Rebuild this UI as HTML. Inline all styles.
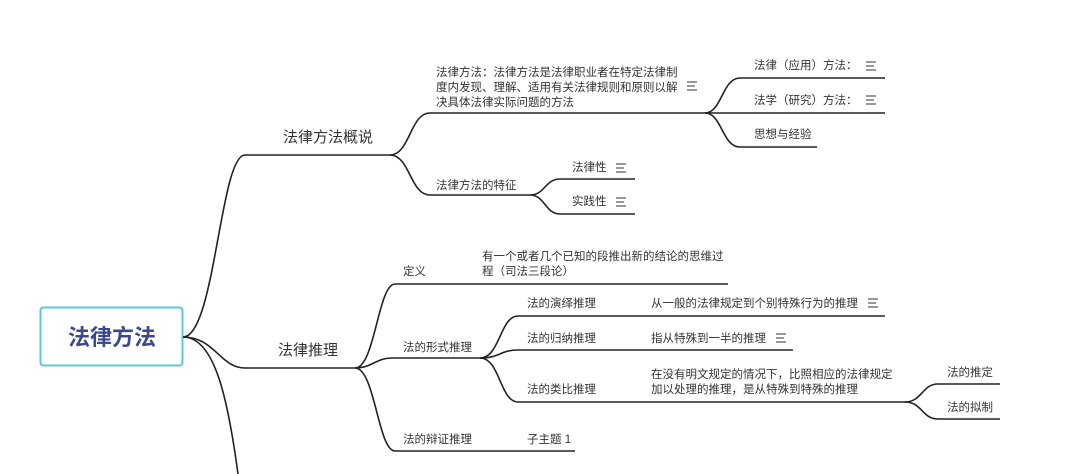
<!DOCTYPE html>
<html><head><meta charset="utf-8"><style>
html,body{margin:0;padding:0;background:#fff;}
svg{display:block}
text{font-family:"Liberation Sans","Noto Sans CJK SC",sans-serif;fill:#333;font-size:11.5px}
.l{stroke:#222;stroke-width:1.6;fill:none}
.m{font-size:15px}
.i{stroke:#555;stroke-width:1.2}
</style></head><body>
<svg width="1080" height="474" viewBox="0 0 1080 474">
<rect x="40.5" y="307.5" width="142" height="58" rx="3" fill="#fff" stroke="#5ec8d8" stroke-width="2"/>
<text x="112" y="345" text-anchor="middle" style="font-size:22px;font-weight:bold;fill:#3b4a8c">法律方法</text>

<path class="l" d="M183 337 C215 337 220 155 245 155 L390 155"/>
<path class="l" d="M183 337 C215 337 220 368 245 368 L355 368"/>
<path class="l" d="M183 337 C215 337 228 400 238 474"/>
<text class="m" x="283" y="142">法律方法概说</text>
<text class="m" x="278" y="355">法律推理</text>

<path class="l" d="M390 155 C410 155 410 113 430 113 L705 113"/>
<path class="l" d="M390 155 C410 155 410 195 430 195 L530 195"/>
<text x="436" y="76">法律方法：法律方法是法律职业者在特定法律制</text>
<text x="436" y="91">度内发现、理解、适用有关法律规则和原则以解</text>
<text x="436" y="106">决具体法律实际问题的方法</text>
<g class="i"><line x1="687" y1="82" x2="697" y2="82"/><line x1="687" y1="86" x2="695" y2="86"/><line x1="687" y1="90" x2="697" y2="90"/></g>
<text x="436" y="189">法律方法的特征</text>

<path class="l" d="M705 113 C722 113 722 78 740 78 L885 78"/>
<path class="l" d="M705 113 L885 113"/>
<path class="l" d="M705 113 C722 113 722 147 740 147 L817 147"/>
<text x="754" y="69">法律（应用）方法：</text>
<text x="754" y="104">法学（研究）方法：</text>
<text x="754" y="138">思想与经验</text>
<g class="i"><line x1="866" y1="62" x2="876" y2="62"/><line x1="866" y1="66" x2="874" y2="66"/><line x1="866" y1="70" x2="876" y2="70"/>
<line x1="866" y1="96" x2="876" y2="96"/><line x1="866" y1="100" x2="874" y2="100"/><line x1="866" y1="104" x2="876" y2="104"/></g>

<path class="l" d="M530 195 C545 195 545 179 560 179 L635 179"/>
<path class="l" d="M530 195 C545 195 545 214 560 214 L635 214"/>
<text x="572" y="171">法律性</text>
<text x="572" y="205">实践性</text>
<g class="i"><line x1="616" y1="164" x2="626" y2="164"/><line x1="616" y1="168" x2="624" y2="168"/><line x1="616" y1="172" x2="626" y2="172"/>
<line x1="616" y1="198" x2="626" y2="198"/><line x1="616" y1="202" x2="624" y2="202"/><line x1="616" y1="206" x2="626" y2="206"/></g>

<path class="l" d="M355 368 C375 368 378 284 395 284 L728 284"/>
<path class="l" d="M355 368 C372 368 376 358 392 358 L480 358"/>
<path class="l" d="M355 368 C375 368 378 451 395 451 L500 451"/>
<text x="403" y="275">定义</text>
<text x="482" y="260">有一个或者几个已知的段推出新的结论的思维过</text>
<text x="482" y="275">程（司法三段论）</text>
<text x="403" y="351">法的形式推理</text>
<text x="403" y="443">法的辩证推理</text>

<path class="l" d="M480 358 C500 358 500 316 518 316 L885 316"/>
<path class="l" d="M480 358 C500 358 500 350 518 350 L793 350"/>
<path class="l" d="M480 358 C500 358 500 402 518 402 L905 402"/>
<text x="527" y="307">法的演绎推理</text>
<text x="651" y="307">从一般的法律规定到个别特殊行为的推理</text>
<text x="527" y="342">法的归纳推理</text>
<text x="651" y="342">指从特殊到一半的推理</text>
<text x="527" y="393">法的类比推理</text>
<text x="651" y="378">在没有明文规定的情况下，比照相应的法律规定</text>
<text x="651" y="393">加以处理的推理，是从特殊到特殊的推理</text>
<g class="i"><line x1="868" y1="299" x2="878" y2="299"/><line x1="868" y1="303" x2="876" y2="303"/><line x1="868" y1="307" x2="878" y2="307"/>
<line x1="776" y1="334" x2="786" y2="334"/><line x1="776" y1="338" x2="784" y2="338"/><line x1="776" y1="342" x2="786" y2="342"/></g>

<path class="l" d="M905 402 C922 402 922 384 938 384 L1000 384"/>
<path class="l" d="M905 402 C922 402 922 419 938 419 L1000 419"/>
<text x="947" y="376">法的推定</text>
<text x="947" y="411">法的拟制</text>

<path class="l" d="M500 451 L575 451"/>
<text x="527" y="443">子主题 1</text>
</svg>
</body></html>
